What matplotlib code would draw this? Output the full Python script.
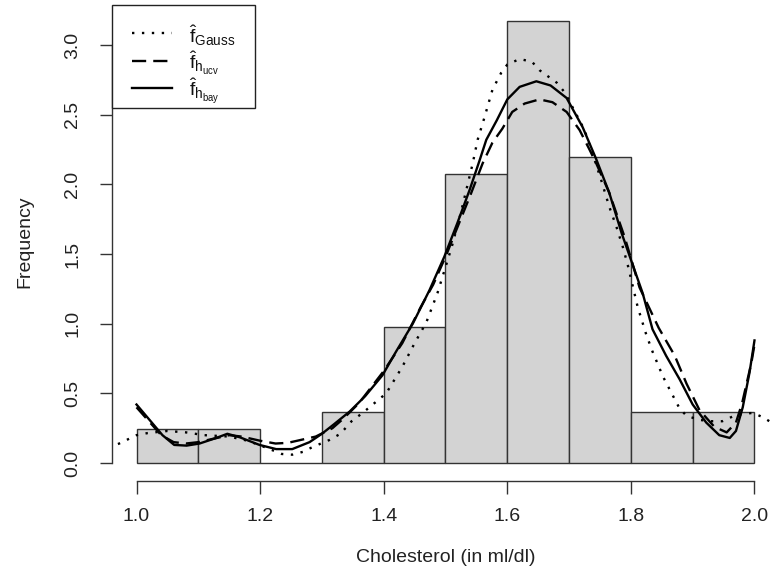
import numpy as np
import matplotlib
matplotlib.use('Agg')
import matplotlib.pyplot as plt
from matplotlib.patches import Rectangle
from matplotlib.lines import Line2D

plt.rcParams['font.family'] = ['Liberation Sans', 'DejaVu Sans']
plt.rcParams['mathtext.fontset'] = 'custom'
plt.rcParams['mathtext.rm'] = 'Liberation Sans'
plt.rcParams['mathtext.it'] = 'Liberation Sans:italic'

# histogram (density scale), bins of width 0.1 from 1.0 to 2.0
bin_left = [1.0, 1.1, 1.2, 1.3, 1.4, 1.5, 1.6, 1.7, 1.8, 1.9]
bin_height = [0.244, 0.244, 0.0, 0.366, 0.976, 2.073, 3.171, 2.195, 0.366, 0.366]

# kernel density curves
gauss_x = [0.955, 0.972, 1.0, 1.018, 1.05, 1.08, 1.11, 1.15, 1.18, 1.21, 1.235,
           1.252, 1.269, 1.285, 1.312, 1.33, 1.348, 1.366, 1.385, 1.404, 1.43,
           1.45, 1.469, 1.487, 1.51, 1.525, 1.544, 1.552, 1.563, 1.576, 1.59,
           1.60, 1.62, 1.64, 1.652, 1.68, 1.693, 1.712, 1.725, 1.738, 1.752,
           1.765, 1.777, 1.787, 1.795, 1.811, 1.825, 1.835, 1.852, 1.866, 1.879,
           1.89, 1.91, 1.93, 1.948, 1.97, 1.997, 2.013, 2.026, 2.045]
gauss_y = [0.11, 0.14, 0.20, 0.215, 0.23, 0.22, 0.20, 0.19, 0.16, 0.11, 0.065,
           0.06, 0.08, 0.115, 0.165, 0.21, 0.30, 0.36, 0.43, 0.50, 0.69,
           0.86, 1.01, 1.22, 1.55, 1.80, 2.15, 2.32, 2.48, 2.68, 2.80,
           2.86, 2.90, 2.88, 2.82, 2.73, 2.66, 2.50, 2.39, 2.22, 2.03,
           1.84, 1.69, 1.55, 1.42, 1.12, 0.92, 0.80, 0.62, 0.50, 0.39,
           0.34, 0.31, 0.30, 0.30, 0.345, 0.36, 0.33, 0.295, 0.25]

ucv_x = [1.0, 1.02, 1.04, 1.06, 1.08, 1.10, 1.13, 1.15, 1.17, 1.20, 1.225,
         1.245, 1.265, 1.29, 1.317, 1.335, 1.36, 1.40, 1.43, 1.46, 1.48, 1.50,
         1.52, 1.54, 1.56, 1.576, 1.592, 1.608, 1.628, 1.652, 1.673, 1.696,
         1.717, 1.733, 1.744, 1.765, 1.79, 1.814, 1.845, 1.871, 1.89, 1.911,
         1.935, 1.955, 1.97, 1.98, 1.995, 2.0]
ucv_y = [0.40, 0.30, 0.20, 0.15, 0.14, 0.15, 0.18, 0.20, 0.19, 0.16, 0.14,
         0.145, 0.165, 0.19, 0.25, 0.32, 0.43, 0.66, 0.86, 1.12, 1.28, 1.48,
         1.70, 1.92, 2.15, 2.30, 2.40, 2.52, 2.58, 2.61, 2.59, 2.52,
         2.39, 2.25, 2.15, 1.94, 1.62, 1.26, 0.97, 0.77, 0.57, 0.38,
         0.26, 0.22, 0.29, 0.43, 0.72, 0.85]

bay_x = [1.0, 1.021, 1.042, 1.061, 1.081, 1.102, 1.129, 1.147, 1.167, 1.199,
         1.226, 1.252, 1.28, 1.30, 1.32, 1.345, 1.37, 1.398, 1.42, 1.447, 1.474,
         1.498, 1.519, 1.539, 1.555, 1.566, 1.583, 1.60, 1.62, 1.647, 1.67,
         1.696, 1.722, 1.744, 1.765, 1.785, 1.80, 1.819, 1.835, 1.857, 1.879,
         1.90, 1.922, 1.943, 1.96, 1.97, 1.981, 1.992, 2.0]
bay_y = [0.42, 0.31, 0.20, 0.13, 0.125, 0.14, 0.18, 0.21, 0.185, 0.13,
         0.10, 0.10, 0.15, 0.21, 0.28, 0.37, 0.48, 0.63, 0.80, 1.0, 1.24,
         1.48, 1.72, 1.96, 2.17, 2.32, 2.46, 2.61, 2.70, 2.74, 2.71,
         2.62, 2.41, 2.18, 1.94, 1.65, 1.46, 1.22, 0.96, 0.77, 0.60,
         0.42, 0.29, 0.20, 0.18, 0.23, 0.40, 0.65, 0.88]

labels = [r'$\hat{\mathrm{f}}_{\mathrm{Gauss}}$',
          r'$\hat{\mathrm{f}}_{\mathrm{h}_{\mathrm{ucv}}}$',
          r'$\hat{\mathrm{f}}_{\mathrm{h}_{\mathrm{bay}}}$']
styles = [(0, (1, 3.2)), (0, (6, 3)), '-']

x_ticks = [1.0, 1.2, 1.4, 1.6, 1.8, 2.0]
y_ticks = [0.0, 0.5, 1.0, 1.5, 2.0, 2.5, 3.0]

W, H = 771, 574
fig = plt.figure(figsize=(W / 100, H / 100), dpi=100)
# plot region (pixels): left 111.8, right 779.2, bottom 480.7, top 3.6
ax = fig.add_axes([111.8 / W, (H - 480.7) / H, 667.4 / W, 477.1 / H])
ax.set_xlim(0.96, 2.04)
ax.set_ylim(-0.1268, 3.2976)
ax.patch.set_alpha(0)

ax.bar(bin_left, bin_height, width=0.1, align='edge', color='#d3d3d3',
       edgecolor='#333333', linewidth=1.0, zorder=1)

for xs, ys, ls in zip([gauss_x, ucv_x, bay_x], [gauss_y, ucv_y, bay_y], styles):
    ax.plot(xs, ys, color='black', lw=1.7, linestyle=ls, zorder=3)

for s in ['top', 'right']:
    ax.spines[s].set_visible(False)
ax.spines['left'].set_bounds(0, 3.0)
ax.spines['bottom'].set_bounds(1.0, 2.0)
for s in ['left', 'bottom']:
    ax.spines[s].set_color('#333333')
    ax.spines[s].set_linewidth(1.0)

ax.set_xticks(x_ticks)
ax.set_xticklabels([f'{v:.1f}' for v in x_ticks])
ax.set_yticks(y_ticks)
ax.set_yticklabels([f'{v:.1f}' for v in y_ticks], rotation=90, va='center')
ax.tick_params(direction='out', length=9, width=1, color='#333333',
               labelsize=14, labelcolor='#222222')
ax.tick_params(axis='x', pad=11)
ax.tick_params(axis='y', pad=13)

ax.set_xlabel('Cholesterol (in ml/dl)', fontsize=14, color='#222222', labelpad=17)
ax.set_ylabel('Frequency', fontsize=14, color='#222222', labelpad=22)

# legend box drawn in figure pixel fractions (R style legend, top-left)
def fx(px):
    return px / W


def fy(py):
    return 1 - py / H


fig.patches.append(Rectangle((fx(111.5), fy(108)), fx(255) - fx(111.5),
                             fy(5) - fy(108), transform=fig.transFigure,
                             facecolor='white', edgecolor='#222222', lw=1.0,
                             zorder=5))
for i, (lab, ls) in enumerate(zip(labels, styles)):
    py = 33 + 27.5 * i
    fig.lines.append(Line2D([fx(132), fx(172)], [fy(py), fy(py)],
                            transform=fig.transFigure, color='black', lw=1.7,
                            linestyle=ls, zorder=6))
    fig.text(fx(189), fy(py + 3), lab, fontsize=14, color='#111111',
             ha='left', va='center', zorder=6)

fig.savefig('out.png', dpi=100)
